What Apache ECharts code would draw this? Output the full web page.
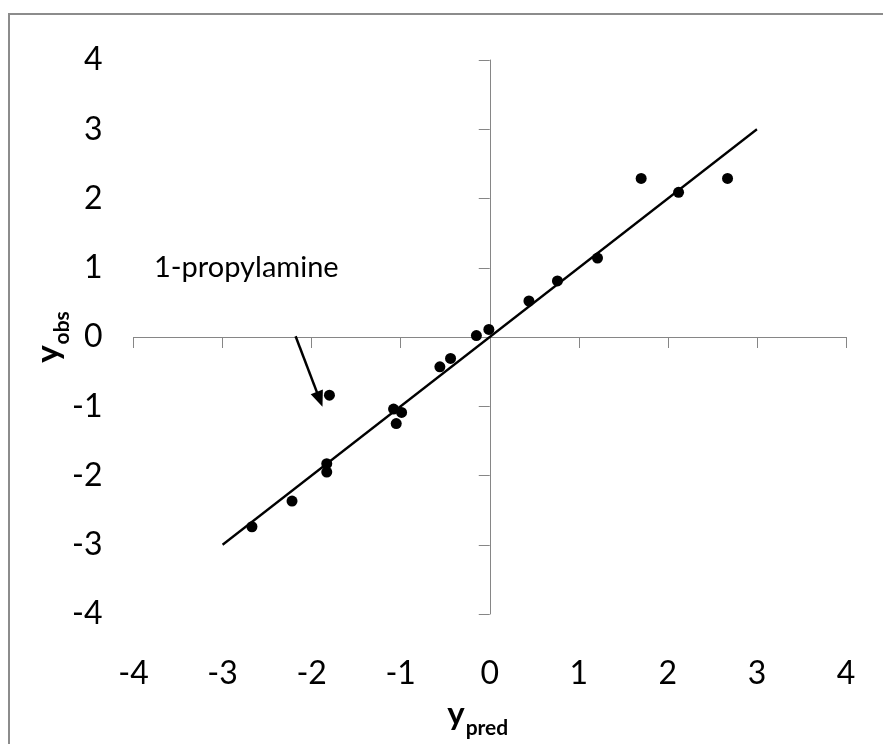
<!DOCTYPE html>
<html>
	<head>
		<meta charset="UTF-8">
		<title>y_obs vs y_pred</title>
		<script src="https://cdn.jsdelivr.net/npm/echarts@6/dist/echarts.min.js"></script>
		<style>
			html, body { margin: 0; padding: 0; background: #fff; }
			#main { width: 883px; height: 744px; }
		</style>
	</head>
	<body>
		<div id="main"></div>
		<script type="text/javascript">
			// 数据：预测值 / 观测值
			var predX = [-2.67, -2.22, -1.83, -1.83, -1.80, -1.08, -0.99, -1.05, -0.56, -0.44, -0.15, -0.01, 0.44, 0.76, 1.21, 1.70, 2.12, 2.67];
			var obsY = [-2.74, -2.37, -1.83, -1.95, -0.84, -1.04, -1.09, -1.25, -0.43, -0.31, 0.02, 0.11, 0.52, 0.81, 1.14, 2.29, 2.09, 2.29];
			var fitX = [-3, 3];
			var fitY = [-3, 3];
			var arrowFrom = [-2.18, 0.01];
			var arrowTo = [-1.91, -0.90];
			var noteText = ['1-propylamine'];
			var notePos = [[-3.77, 1]];
			var ticks = [-4, -3, -2, -1, 0, 1, 2, 3, 4];

			var font = 'Lato, "Open Sans", sans-serif';
			var axisGray = '#868686';

			var points = predX.map(function(x, i) { return [x, obsY[i]]; });
			var fitLine = fitX.map(function(x, i) { return [x, fitY[i]]; });

			var myChart = echarts.init(document.getElementById('main'));

			myChart.setOption({
				animation: false,
				backgroundColor: '#fff',
				grid: {
					left: 133.5,
					right: 37,
					top: 60,
					bottom: 123
				},
				graphic: [{
					type: 'rect',
					shape: { x: 9, y: 14, width: 1000, height: 1000 },
					style: { fill: 'none', stroke: '#8c8c8c', lineWidth: 2 },
					silent: true
				}],
				xAxis: [{
					// 刻度标签（底部）
					type: 'value',
					min: ticks[0],
					max: ticks[ticks.length - 1],
					interval: 1,
					position: 'bottom',
					axisLine: { show: false, onZero: false },
					axisTick: { show: false },
					splitLine: { show: false },
					axisLabel: { margin: 44, color: '#000', fontSize: 32, fontFamily: font },
					name: '{a|y}{b|pred}',
					nameLocation: 'middle',
					nameGap: 84,
					nameMoveOverlap: false,
					nameTextStyle: {
						rich: {
							a: { fontSize: 33, fontWeight: 'bold', fontFamily: font, color: '#000', verticalAlign: 'bottom', padding: [0, 0, 8, 0] },
							b: { fontSize: 21, fontWeight: 'bold', fontFamily: font, color: '#000', verticalAlign: 'bottom', padding: [0, 24, 0, 1] }
						}
					}
				}, {
					// 过零轴线
					type: 'value',
					min: ticks[0],
					max: ticks[ticks.length - 1],
					interval: 1,
					position: 'bottom',
					axisLine: { show: true, onZero: true, onZeroAxisIndex: 1, lineStyle: { color: axisGray, width: 1 } },
					axisTick: { show: true, length: 11, lineStyle: { color: axisGray, width: 1 } },
					axisLabel: { show: false },
					splitLine: { show: false }
				}],
				yAxis: [{
					type: 'value',
					min: ticks[0],
					max: ticks[ticks.length - 1],
					interval: 1,
					position: 'left',
					axisLine: { show: false, onZero: false },
					axisTick: { show: false },
					splitLine: { show: false },
					axisLabel: { margin: 31, color: '#000', fontSize: 32, fontFamily: font },
					name: '{a|y}{b|obs}',
					nameLocation: 'middle',
					nameRotate: 90,
					nameGap: 61,
					nameMoveOverlap: false,
					nameTextStyle: {
						rich: {
							a: { fontSize: 33, fontWeight: 'bold', fontFamily: font, color: '#000', verticalAlign: 'bottom', padding: [0, 0, 8, 0] },
							b: { fontSize: 21, fontWeight: 'bold', fontFamily: font, color: '#000', verticalAlign: 'bottom', padding: [0, 0, 0, 1] }
						}
					}
				}, {
					type: 'value',
					min: ticks[0],
					max: ticks[ticks.length - 1],
					interval: 1,
					position: 'left',
					axisLine: { show: true, onZero: true, onZeroAxisIndex: 1, lineStyle: { color: axisGray, width: 1 } },
					axisTick: { show: true, length: 11, lineStyle: { color: axisGray, width: 1 } },
					axisLabel: { show: false },
					splitLine: { show: false }
				}],
				series: [{
					name: 'fit',
					type: 'line',
					data: fitLine,
					symbol: 'none',
					lineStyle: { color: '#000', width: 2.25 },
					markLine: {
						silent: true,
						symbol: ['none', 'triangle'],
						symbolSize: [13, 16],
						label: { show: false },
						lineStyle: { color: '#000', width: 2.5, type: 'solid', opacity: 1 },
						data: [[{ coord: arrowFrom }, { coord: arrowTo }]]
					}
				}, {
					name: 'obs',
					type: 'scatter',
					data: points,
					symbol: 'circle',
					symbolSize: 11,
					itemStyle: { color: '#000', opacity: 1 }
				}, {
					name: 'note',
					type: 'scatter',
					data: notePos,
					symbolSize: 0,
					itemStyle: { opacity: 1 },
					label: {
						show: true,
						position: 'right',
						distance: 0,
						formatter: function(p) { return noteText[p.dataIndex]; },
						color: '#000',
						fontSize: 29,
						fontFamily: font
					}
				}]
			});
		</script>
	</body>
</html>
